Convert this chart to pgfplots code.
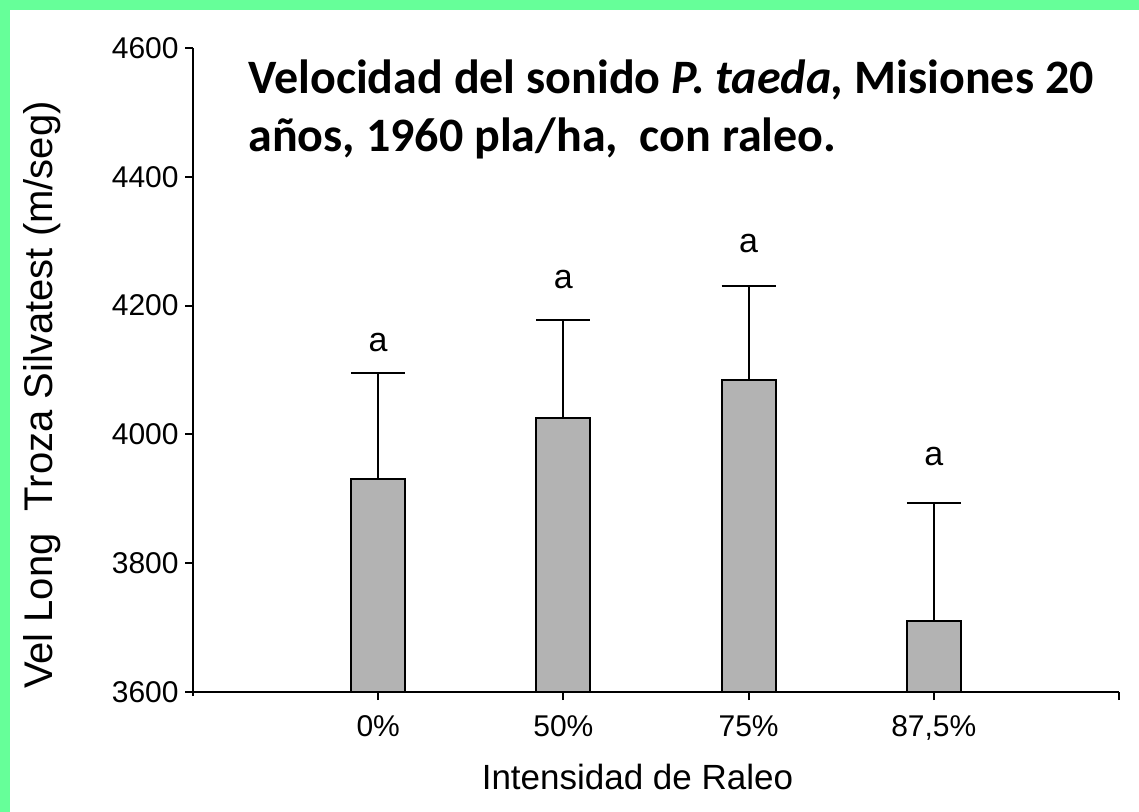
\documentclass[border=0pt]{standalone}
\usepackage{fontspec}
\setmainfont{Liberation Sans}
\newfontfamily\titlefont{Carlito}
\usepackage{pgfplots}
\usepackage{pgfplotstable}
\pgfplotsset{compat=1.18}
\definecolor{Frame}{HTML}{66FF99}
\definecolor{BarG}{HTML}{B3B3B3}
\newcommand{\tl}{\fontsize{15}{18}\selectfont}

% mean and upper error per thinning level
\pgfplotstableread{
x y ey
1 3930 165
2 4025 153
3 4085 145
4 3710 183
}\velo

\begin{document}
\begin{tikzpicture}[x=1pt,y=1pt]
\useasboundingbox (0,0) rectangle (569.5,-406);
\fill[Frame] (0,0) rectangle (569.5,-406);
\fill[white] (5,-5) rectangle (569.5,-406);
\begin{axis}[at={(96.5pt,-346pt)},anchor=south west,scale only axis,
  width=463pt,height=322pt,
  xmin=0,xmax=5,ymin=3600,ymax=4600,
  axis x line=bottom,axis y line=left,
  axis line style={-,line width=1pt},
  y axis line style={shorten <=-2pt},
  tick align=outside,major tick length=4pt,
  tick style={black,line width=1pt},
  xtick={1,2,3,4,5},
  xticklabels={{\tl 0\%},{\tl 50\%},{\tl 75\%},{\tl 87,5\%},{}},
  ytick={3600,3800,...,4600},
  yticklabel={\tl\pgfmathprintnumber[assume math mode=true,1000 sep={}]{\tick}},
  yticklabel style={anchor=east,inner sep=0pt,xshift=-3pt},
  xticklabel style={anchor=base,inner sep=0pt,yshift=-18pt},
  xlabel={Intensidad de Raleo},
  ylabel={Vel Long\ \ Troza Silvatest (m/seg)},
  xlabel style={at={(axis description cs:0.48,-0.132)},anchor=center,font=\fontsize{17.5}{20}\selectfont},
  ylabel style={at={(axis description cs:-0.163,0.461)},anchor=center,font=\fontsize{20}{24}\selectfont},
  ybar,bar width=27pt]
\addplot[fill=BarG,draw=black,line width=1pt,
  error bars/.cd,y dir=plus,y explicit,
  error bar style={line width=1pt,black},
  error mark options={rotate=90,mark size=13.5pt,line width=1pt,black}]
  table[x=x,y=y,y error=ey]{\velo};
\node[font=\fontsize{17}{20}\selectfont] at (axis cs:1,4143) {a};
\node[font=\fontsize{17}{20}\selectfont] at (axis cs:2,4240) {a};
\node[font=\fontsize{17}{20}\selectfont] at (axis cs:3,4296) {a};
\node[font=\fontsize{17}{20}\selectfont] at (axis cs:4,3965) {a};
\end{axis}
\node[anchor=base west,inner sep=0pt,font=\titlefont\fontsize{24}{28}\selectfont\bfseries]
  at (124,-47) {Velocidad del sonido \textit{P. taeda,} Misiones 20};
\node[anchor=base west,inner sep=0pt,font=\titlefont\fontsize{24}{28}\selectfont\bfseries]
  at (124,-76) {años, 1960 pla/ha,\ \ con raleo.};
\end{tikzpicture}
\end{document}
